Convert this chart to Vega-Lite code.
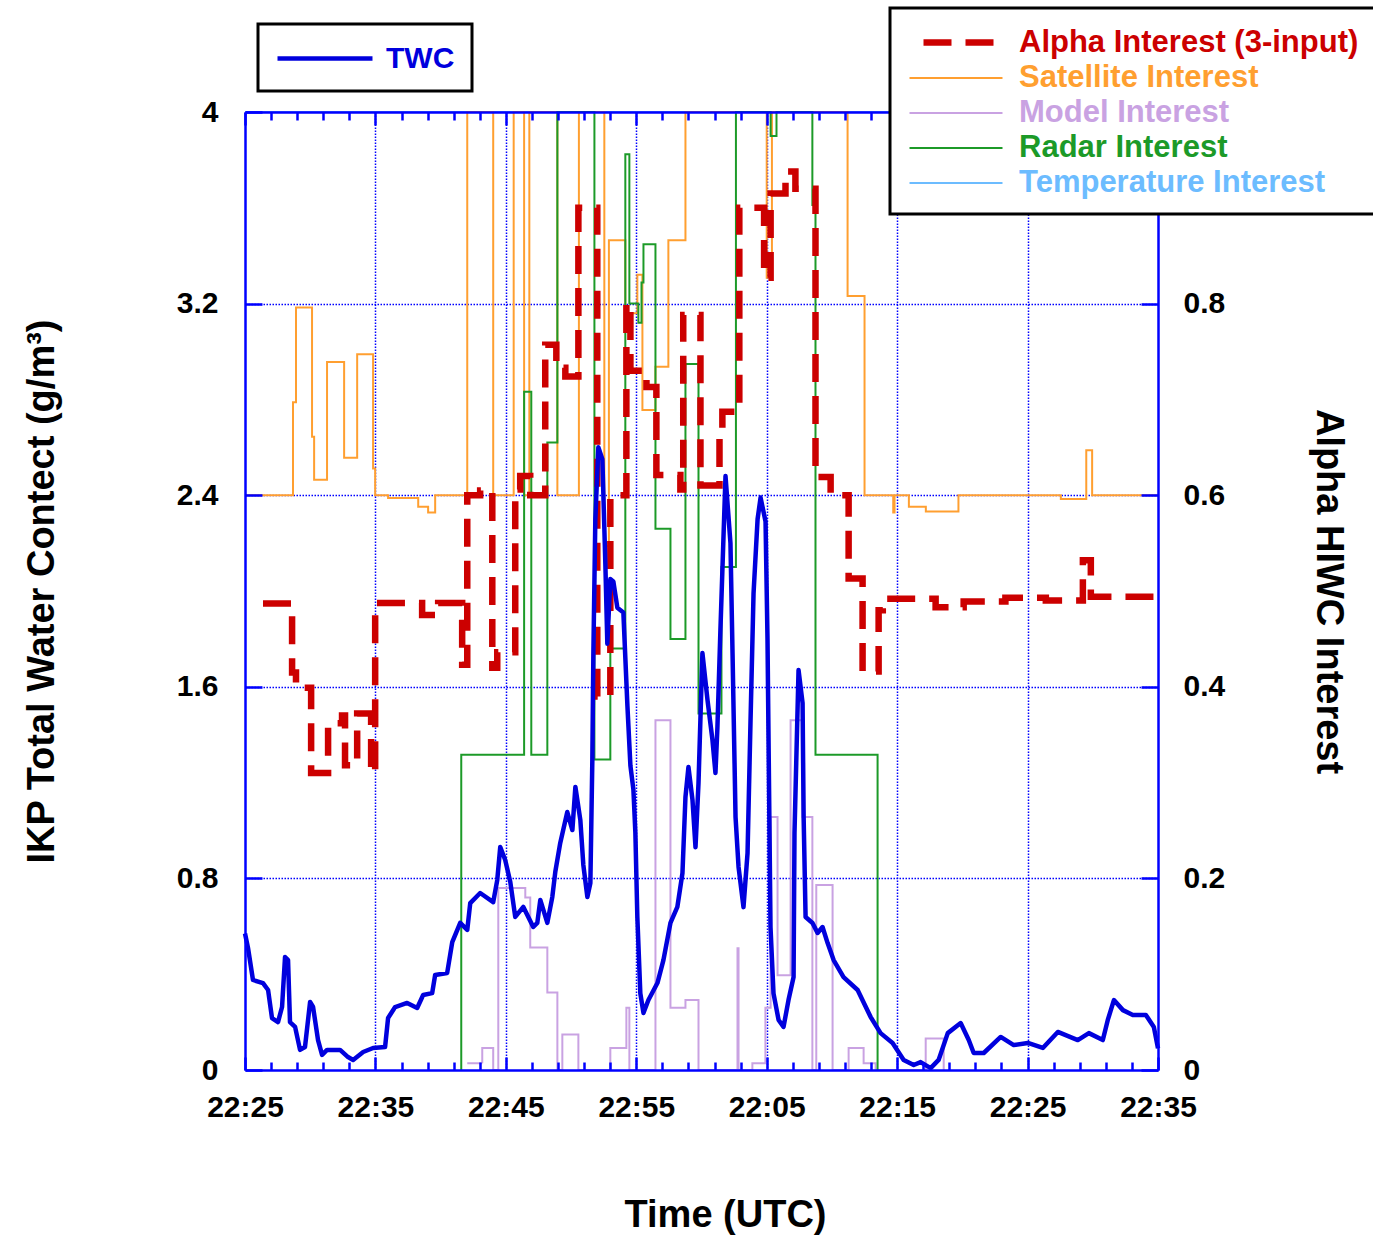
{
  "$schema": "https://vega.github.io/schema/vega-lite/v6.json",
  "width": 913,
  "height": 958,
  "autosize": {"type": "none"},
  "padding": {"left": 245, "top": 112, "right": 215, "bottom": 168},
  "background": "white",
  "config": {
    "view": {"stroke": null},
    "font": "Liberation Sans"
  },
  "datasets": {
    "twc": [
      {"t":0,"w":0.57},{"t":0.23,"w":0.51},{"t":0.61,"w":0.376},{"t":1.38,"w":0.363},{"t":1.77,"w":0.334},{"t":2.07,"w":0.217},{"t":2.53,"w":0.2},{"t":2.84,"w":0.263},{"t":3.07,"w":0.472},{"t":3.3,"w":0.459},{"t":3.45,"w":0.2},{"t":3.84,"w":0.18},{"t":4.22,"w":0.084},{"t":4.6,"w":0.096},{"t":4.99,"w":0.284},{"t":5.22,"w":0.263},{"t":5.6,"w":0.125},{"t":5.91,"w":0.063},{"t":6.29,"w":0.084},{"t":7.29,"w":0.084},{"t":7.9,"w":0.054},{"t":8.29,"w":0.042},{"t":9.06,"w":0.075},{"t":9.82,"w":0.092},{"t":10.74,"w":0.096},{"t":10.97,"w":0.217},{"t":11.51,"w":0.263},{"t":12.43,"w":0.28},{"t":13.2,"w":0.259},{"t":13.66,"w":0.313},{"t":14.35,"w":0.321},{"t":14.58,"w":0.397},{"t":15.5,"w":0.405},{"t":15.89,"w":0.534},{"t":16.5,"w":0.614},{"t":17.04,"w":0.585},{"t":17.27,"w":0.697},{"t":18.03,"w":0.739},{"t":19.03,"w":0.701},{"t":19.34,"w":0.793},{"t":19.57,"w":0.931},{"t":19.95,"w":0.877},{"t":20.34,"w":0.785},{"t":20.72,"w":0.639},{"t":21.34,"w":0.681},{"t":22.1,"w":0.597},{"t":22.41,"w":0.614},{"t":22.64,"w":0.71},{"t":23.18,"w":0.614},{"t":23.56,"w":0.722},{"t":23.79,"w":0.827},{"t":24.17,"w":0.948},{"t":24.71,"w":1.077},{"t":25.1,"w":1.002},{"t":25.33,"w":1.182},{"t":25.71,"w":1.044},{"t":25.94,"w":0.856},{"t":26.25,"w":0.722},{"t":26.48,"w":0.781},{"t":26.63,"w":1.294},{"t":26.71,"w":1.741},{"t":26.86,"w":2.3},{"t":27.09,"w":2.6},{"t":27.4,"w":2.55},{"t":27.63,"w":2.11},{"t":27.78,"w":1.78},{"t":28.01,"w":2.05},{"t":28.24,"w":2.04},{"t":28.55,"w":1.93},{"t":29.01,"w":1.91},{"t":29.32,"w":1.52},{"t":29.55,"w":1.27},{"t":29.78,"w":1.17},{"t":29.93,"w":0.99},{"t":30.08,"w":0.64},{"t":30.31,"w":0.32},{"t":30.55,"w":0.238},{"t":30.93,"w":0.292},{"t":31.62,"w":0.363},{"t":32.08,"w":0.459},{"t":32.62,"w":0.614},{"t":33.15,"w":0.681},{"t":33.54,"w":0.822},{"t":33.77,"w":1.14},{"t":34.0,"w":1.265},{"t":34.31,"w":1.127},{"t":34.54,"w":0.93},{"t":34.77,"w":1.198},{"t":35.07,"w":1.741},{"t":35.46,"w":1.545},{"t":35.84,"w":1.378},{"t":36.07,"w":1.24},{"t":36.22,"w":1.43},{"t":36.45,"w":1.837},{"t":36.84,"w":2.48},{"t":37.22,"w":2.2},{"t":37.38,"w":1.74},{"t":37.61,"w":1.056},{"t":37.84,"w":0.848},{"t":38.22,"w":0.68},{"t":38.53,"w":0.906},{"t":38.76,"w":1.461},{"t":38.99,"w":1.99},{"t":39.3,"w":2.3},{"t":39.53,"w":2.39},{"t":39.91,"w":2.29},{"t":40.06,"w":1.8},{"t":40.29,"w":0.597},{"t":40.52,"w":0.32},{"t":40.91,"w":0.209},{"t":41.29,"w":0.18},{"t":41.67,"w":0.292},{"t":42.06,"w":0.388},{"t":42.13,"w":0.99},{"t":42.44,"w":1.67},{"t":42.75,"w":1.532},{"t":42.83,"w":1.056},{"t":42.98,"w":0.639},{"t":43.51,"w":0.614},{"t":43.9,"w":0.572},{"t":44.28,"w":0.597},{"t":44.67,"w":0.53},{"t":45.13,"w":0.459},{"t":45.89,"w":0.388},{"t":46.97,"w":0.334},{"t":47.97,"w":0.221},{"t":48.73,"w":0.154},{"t":49.65,"w":0.113},{"t":50.5,"w":0.042},{"t":51.27,"w":0.021},{"t":51.8,"w":0.033},{"t":52.57,"w":0.008},{"t":53.18,"w":0.042},{"t":53.88,"w":0.154},{"t":54.87,"w":0.196},{"t":55.49,"w":0.125},{"t":55.87,"w":0.071},{"t":56.64,"w":0.071},{"t":57.94,"w":0.138},{"t":58.94,"w":0.104},{"t":60.02,"w":0.113},{"t":61.17,"w":0.092},{"t":62.32,"w":0.159},{"t":63.85,"w":0.125},{"t":64.7,"w":0.154},{"t":65.77,"w":0.125},{"t":66.15,"w":0.209},{"t":66.62,"w":0.292},{"t":67.31,"w":0.25},{"t":68.07,"w":0.23},{"t":69.07,"w":0.23},{"t":69.68,"w":0.18},{"t":70,"w":0.09}
    ],
    "interest": [
      {"s":"Temperature Interest","t":0,"v":1},{"s":"Temperature Interest","t":70,"v":1},
      {"s":"Model Interest","t":17.04,"v":0.007},{"s":"Model Interest","t":18.19,"v":0.023},{"s":"Model Interest","t":19.03,"v":0},{"s":"Model Interest","t":19.42,"v":0.19},{"s":"Model Interest","t":21.49,"v":0.18},{"s":"Model Interest","t":21.87,"v":0.128},{"s":"Model Interest","t":23.18,"v":0.081},{"s":"Model Interest","t":23.95,"v":0},{"s":"Model Interest","t":24.33,"v":0.037},{"s":"Model Interest","t":25.56,"v":0},{"s":"Model Interest","t":28.01,"v":0.023},{"s":"Model Interest","t":29.24,"v":0.065},{"s":"Model Interest","t":29.47,"v":0},{"s":"Model Interest","t":31.47,"v":0.365},{"s":"Model Interest","t":32.62,"v":0.065},{"s":"Model Interest","t":33.77,"v":0.073},{"s":"Model Interest","t":34.77,"v":0},{"s":"Model Interest","t":37.76,"v":0.127},{"s":"Model Interest","t":37.84,"v":0},{"s":"Model Interest","t":38.9,"v":0.007},{"s":"Model Interest","t":39.9,"v":0.065},{"s":"Model Interest","t":40.3,"v":0.264},{"s":"Model Interest","t":40.83,"v":0.099},{"s":"Model Interest","t":41.83,"v":0.365},{"s":"Model Interest","t":42.75,"v":0.264},{"s":"Model Interest","t":43.5,"v":0},{"s":"Model Interest","t":43.8,"v":0.193},{"s":"Model Interest","t":45.05,"v":0},{"s":"Model Interest","t":46.28,"v":0.023},{"s":"Model Interest","t":47.43,"v":0.007},{"s":"Model Interest","t":48.35,"v":0},{"s":"Model Interest","t":52.19,"v":0.033},{"s":"Model Interest","t":53.57,"v":0},
      {"s":"Satellite Interest","t":0,"v":0.6},{"s":"Satellite Interest","t":3.68,"v":0.697},{"s":"Satellite Interest","t":3.91,"v":0.796},{"s":"Satellite Interest","t":5.14,"v":0.661},{"s":"Satellite Interest","t":5.3,"v":0.616},{"s":"Satellite Interest","t":6.29,"v":0.739},{"s":"Satellite Interest","t":7.6,"v":0.639},{"s":"Satellite Interest","t":8.6,"v":0.747},{"s":"Satellite Interest","t":9.82,"v":0.628},{"s":"Satellite Interest","t":9.98,"v":0.6},{"s":"Satellite Interest","t":10.97,"v":0.597},{"s":"Satellite Interest","t":13.28,"v":0.588},{"s":"Satellite Interest","t":14.04,"v":0.582},{"s":"Satellite Interest","t":14.58,"v":0.6},{"s":"Satellite Interest","t":17.04,"v":1},{"s":"Satellite Interest","t":19.03,"v":0.6},{"s":"Satellite Interest","t":20.6,"v":1},{"s":"Satellite Interest","t":21.4,"v":0.6},{"s":"Satellite Interest","t":21.8,"v":1},{"s":"Satellite Interest","t":23.95,"v":0.6},{"s":"Satellite Interest","t":25.6,"v":1},{"s":"Satellite Interest","t":27.55,"v":0.547},{"s":"Satellite Interest","t":27.9,"v":0.866},{"s":"Satellite Interest","t":29.16,"v":0.79},{"s":"Satellite Interest","t":30.08,"v":0.83},{"s":"Satellite Interest","t":30.47,"v":0.689},{"s":"Satellite Interest","t":31.47,"v":0.734},{"s":"Satellite Interest","t":32.46,"v":0.866},{"s":"Satellite Interest","t":33.77,"v":1},{"s":"Satellite Interest","t":40.0,"v":0.827},{"s":"Satellite Interest","t":40.4,"v":1},{"s":"Satellite Interest","t":46.2,"v":0.808},{"s":"Satellite Interest","t":47.5,"v":0.6},{"s":"Satellite Interest","t":49.7,"v":0.582},{"s":"Satellite Interest","t":49.8,"v":0.6},{"s":"Satellite Interest","t":50.9,"v":0.588},{"s":"Satellite Interest","t":52.2,"v":0.583},{"s":"Satellite Interest","t":54.7,"v":0.6},{"s":"Satellite Interest","t":62.55,"v":0.596},{"s":"Satellite Interest","t":64.5,"v":0.647},{"s":"Satellite Interest","t":64.95,"v":0.6},{"s":"Satellite Interest","t":70,"v":0.6},
      {"s":"Radar Interest","t":16.57,"v":0},{"s":"Radar Interest","t":16.58,"v":0.329},{"s":"Radar Interest","t":21.4,"v":0.708},{"s":"Radar Interest","t":21.95,"v":0.329},{"s":"Radar Interest","t":23.18,"v":0.655},{"s":"Radar Interest","t":23.95,"v":1},{"s":"Radar Interest","t":26.79,"v":0.324},{"s":"Radar Interest","t":28.01,"v":0.44},{"s":"Radar Interest","t":29.16,"v":0.956},{"s":"Radar Interest","t":29.47,"v":0.8},{"s":"Radar Interest","t":30.16,"v":0.78},{"s":"Radar Interest","t":30.4,"v":0.822},{"s":"Radar Interest","t":30.55,"v":0.862},{"s":"Radar Interest","t":31.47,"v":0.565},{"s":"Radar Interest","t":32.62,"v":0.45},{"s":"Radar Interest","t":33.77,"v":0.737},{"s":"Radar Interest","t":34.77,"v":0.372},{"s":"Radar Interest","t":36.53,"v":0.525},{"s":"Radar Interest","t":37.64,"v":1},{"s":"Radar Interest","t":40.3,"v":0.975},{"s":"Radar Interest","t":40.75,"v":1},{"s":"Radar Interest","t":43.5,"v":0.903},{"s":"Radar Interest","t":43.74,"v":0.329},{"s":"Radar Interest","t":48.5,"v":0},
      {"s":"Alpha Interest (3-input)","t":1.38,"v":0.487},{"s":"Alpha Interest (3-input)","t":3.61,"v":0.415},{"s":"Alpha Interest (3-input)","t":3.91,"v":0.399},{"s":"Alpha Interest (3-input)","t":5.07,"v":0.31},{"s":"Alpha Interest (3-input)","t":6.37,"v":0.362},{"s":"Alpha Interest (3-input)","t":7.44,"v":0.37},{"s":"Alpha Interest (3-input)","t":7.67,"v":0.318},{"s":"Alpha Interest (3-input)","t":8.6,"v":0.372},{"s":"Alpha Interest (3-input)","t":9.67,"v":0.31},{"s":"Alpha Interest (3-input)","t":9.98,"v":0.4875},{"s":"Alpha Interest (3-input)","t":13.58,"v":0.475},{"s":"Alpha Interest (3-input)","t":14.81,"v":0.4875},{"s":"Alpha Interest (3-input)","t":16.65,"v":0.423},{"s":"Alpha Interest (3-input)","t":17.04,"v":0.6},{"s":"Alpha Interest (3-input)","t":18.03,"v":0.605},{"s":"Alpha Interest (3-input)","t":18.96,"v":0.42},{"s":"Alpha Interest (3-input)","t":19.34,"v":0.436},{"s":"Alpha Interest (3-input)","t":20.72,"v":0.606},{"s":"Alpha Interest (3-input)","t":21.1,"v":0.62},{"s":"Alpha Interest (3-input)","t":21.87,"v":0.6},{"s":"Alpha Interest (3-input)","t":23.02,"v":0.757},{"s":"Alpha Interest (3-input)","t":23.87,"v":0.733},{"s":"Alpha Interest (3-input)","t":24.56,"v":0.724},{"s":"Alpha Interest (3-input)","t":25.56,"v":0.9},{"s":"Alpha Interest (3-input)","t":27.01,"v":0.39},{"s":"Alpha Interest (3-input)","t":28.01,"v":0.6},{"s":"Alpha Interest (3-input)","t":29.24,"v":0.8},{"s":"Alpha Interest (3-input)","t":29.55,"v":0.73},{"s":"Alpha Interest (3-input)","t":30.78,"v":0.713},{"s":"Alpha Interest (3-input)","t":31.54,"v":0.621},{"s":"Alpha Interest (3-input)","t":33.38,"v":0.606},{"s":"Alpha Interest (3-input)","t":33.6,"v":0.788},{"s":"Alpha Interest (3-input)","t":34.92,"v":0.61},{"s":"Alpha Interest (3-input)","t":36.38,"v":0.668},{"s":"Alpha Interest (3-input)","t":36.6,"v":0.687},{"s":"Alpha Interest (3-input)","t":37.9,"v":0.9},{"s":"Alpha Interest (3-input)","t":39.8,"v":0.827},{"s":"Alpha Interest (3-input)","t":40.3,"v":0.915},{"s":"Alpha Interest (3-input)","t":41.44,"v":0.938},{"s":"Alpha Interest (3-input)","t":42.2,"v":0.92},{"s":"Alpha Interest (3-input)","t":43.74,"v":0.619},{"s":"Alpha Interest (3-input)","t":44.9,"v":0.6},{"s":"Alpha Interest (3-input)","t":46.28,"v":0.513},{"s":"Alpha Interest (3-input)","t":47.35,"v":0.416},{"s":"Alpha Interest (3-input)","t":48.58,"v":0.48},{"s":"Alpha Interest (3-input)","t":48.9,"v":0.492},{"s":"Alpha Interest (3-input)","t":52.95,"v":0.483},{"s":"Alpha Interest (3-input)","t":55.1,"v":0.489},{"s":"Alpha Interest (3-input)","t":58.3,"v":0.493},{"s":"Alpha Interest (3-input)","t":61.4,"v":0.49},{"s":"Alpha Interest (3-input)","t":64.24,"v":0.532},{"s":"Alpha Interest (3-input)","t":64.85,"v":0.494},{"s":"Alpha Interest (3-input)","t":70,"v":0.494}
    ]
  },
  "resolve": {
    "scale": {"y": "independent"},
    "axis": {"x": "independent", "y": "independent"}
  },
  "layer": [
    {
      "data": {"name": "interest"},
      "mark": {"type": "line", "interpolate": "step-after"},
      "encoding": {
        "x": {
          "field": "t", "type": "quantitative",
          "scale": {"domain": [0, 70], "nice": false, "zero": false},
          "axis": {
            "orient": "top", "values": [0,10,20,30,40,50,60,70], "labels": false, "grid": false, "title": null,
            "tickSize": -13, "tickWidth": 2.5, "tickColor": "#0000ff",
            "domainColor": "#0000ff", "domainWidth": 2.5, "zindex": 1
          }
        },
        "y": {
          "field": "v", "type": "quantitative",
          "scale": {"domain": [0, 1], "nice": false, "zero": false},
          "axis": {
            "orient": "right", "values": [0,0.2,0.4,0.6,0.8], "format": "~g", "grid": false,
            "tickSize": -17, "tickWidth": 2.5, "tickColor": "#0000ff",
            "domainColor": "#0000ff", "domainWidth": 2.5,
            "labelPadding": 42, "labelFontSize": 30, "labelFontWeight": "bold", "labelColor": "black", "labelFont": "Liberation Sans",
            "title": "Alpha HIWC Interest", "titleAngle": 90, "titleFontSize": 38, "titleFontWeight": "bold", "titleColor": "black", "titleFont": "Liberation Sans",
            "titleX": 169, "titleY": 479, "titleBaseline": "middle", "titleAlign": "center",
            "zindex": 1
          }
        },
        "color": {
          "field": "s", "type": "nominal",
          "scale": {
            "domain": ["Alpha Interest (3-input)", "Satellite Interest", "Model Interest", "Radar Interest", "Temperature Interest"],
            "range": ["#cc0000", "#ff9f30", "#c9a2e2", "#1c9a28", "#6cbcff"]
          },
          "legend": {
            "orient": "none", "legendX": 645, "legendY": -104, "title": null, "zindex": 3,
            "symbolType": "M-1,0L5.2,0", "symbolSize": 900,
            "labelFontSize": 31, "labelFont": "Liberation Sans", "labelFontWeight": "bold", "labelLimit": 700,
            "labelOffset": 76, "rowPadding": 4, "padding": 16,
            "fillColor": "white", "strokeColor": "black",
            "encode": {
              "labels": {"update": {"fill": {"scale": "color", "field": "value"}}},
              "legend": {"update": {"strokeWidth": {"value": 3}}},
              "symbols": {"update": {"strokeDashOffset": {"value": 28}}}
            }
          }
        },
        "strokeDash": {
          "field": "s", "type": "nominal",
          "scale": {
            "domain": ["Alpha Interest (3-input)", "Satellite Interest", "Model Interest", "Radar Interest", "Temperature Interest"],
            "range": [[28, 14], [1, 0], [1, 0], [1, 0], [1, 0]]
          }
        },
        "strokeWidth": {
          "field": "s", "type": "nominal",
          "scale": {
            "type": "ordinal",
            "domain": ["Alpha Interest (3-input)", "Satellite Interest", "Model Interest", "Radar Interest", "Temperature Interest"],
            "range": [6.5, 2, 2, 2, 2]
          }
        }
      }
    },
    {
      "data": {"name": "twc"},
      "mark": {"type": "line", "strokeWidth": 4.5, "strokeJoin": "round"},
      "encoding": {
        "x": {
          "field": "t", "type": "quantitative",
          "axis": {
            "orient": "bottom", "values": [0,10,20,30,40,50,60,70], "grid": false,
            "tickSize": -13, "tickWidth": 2.5, "tickColor": "#0000ff",
            "domainColor": "#0000ff", "domainWidth": 2.5,
            "labelExpr": "['22:25','22:35','22:45','22:55','22:05','22:15','22:25','22:35'][round(datum.value/10)]",
            "labelFlush": false, "labelOverlap": false, "labelPadding": 35, "labelFontSize": 30, "labelFontWeight": "bold", "labelColor": "black", "labelFont": "Liberation Sans",
            "title": "Time (UTC)", "titleFontSize": 38, "titleFontWeight": "bold", "titleColor": "black", "titleFont": "Liberation Sans",
            "titleX": 480, "titleY": 145, "titleBaseline": "middle", "titleAlign": "center",
            "zindex": 1
          }
        },
        "y": {
          "field": "w", "type": "quantitative",
          "scale": {"domain": [0, 4], "nice": false, "zero": false},
          "axis": {
            "orient": "left", "values": [0,0.8,1.6,2.4,3.2,4], "format": "~g", "grid": false,
            "tickSize": -17, "tickWidth": 2.5, "tickColor": "#0000ff",
            "domainColor": "#0000ff", "domainWidth": 2.5,
            "labelPadding": 44, "labelFontSize": 30, "labelFontWeight": "bold", "labelColor": "black", "labelFont": "Liberation Sans",
            "title": "IKP Total Water Contect (g/m³)", "titleAngle": 270, "titleFontSize": 38, "titleFontWeight": "bold", "titleColor": "black", "titleFont": "Liberation Sans",
            "titleX": -203, "titleY": 479, "titleBaseline": "middle", "titleAlign": "center",
            "zindex": 1
          }
        },
        "stroke": {
          "datum": "TWC", "type": "nominal",
          "scale": {"domain": ["TWC"], "range": ["#0000dd"]},
          "legend": {
            "orient": "none", "legendX": 13, "legendY": -88, "title": null, "zindex": 3,
            "symbolType": "M-1,0L5.333,0", "symbolSize": 900, "symbolStrokeWidth": 4.5,
            "labelFontSize": 30, "labelFont": "Liberation Sans", "labelFontWeight": "bold", "labelColor": "#0000dd",
            "labelOffset": 76, "padding": 17,
            "fillColor": "white", "strokeColor": "black",
            "encode": {"legend": {"update": {"strokeWidth": {"value": 3}}}}
          }
        }
      }
    },
    {
      "data": {"name": "twc"},
      "mark": {"type": "point", "opacity": 0},
      "encoding": {
        "x": {
          "field": "t", "type": "quantitative",
          "axis": {
            "orient": "bottom", "values": [10,20,30,40,50,60], "grid": true, "gridColor": "#0000ff", "gridDash": [1.5, 1.5], "gridWidth": 1.5,
            "ticks": false, "labels": false, "domain": false, "title": null, "zindex": 0
          }
        },
        "y": {
          "field": "w", "type": "quantitative",
          "scale": {"domain": [0, 4], "nice": false, "zero": false},
          "axis": {
            "orient": "left", "values": [0.8,1.6,2.4,3.2], "grid": true, "gridColor": "#0000ff", "gridDash": [1.5, 1.5], "gridWidth": 1.5,
            "ticks": false, "labels": false, "domain": false, "title": null, "zindex": 0
          }
        }
      }
    },
    {
      "data": {"name": "twc"},
      "mark": {"type": "point", "opacity": 0},
      "encoding": {
        "x": {
          "field": "t", "type": "quantitative",
          "axis": {
            "orient": "bottom", "values": [2,4,6,8,12,14,16,18,22,24,26,28,32,34,36,38,42,44,46,48,52,54,56,58,62,64,66,68],
            "grid": false, "labels": false, "domain": false, "title": null,
            "tickSize": -8, "tickWidth": 2.5, "tickColor": "#0000ff", "zindex": 1
          }
        }
      }
    },
    {
      "data": {"name": "twc"},
      "mark": {"type": "point", "opacity": 0},
      "encoding": {
        "x": {
          "field": "t", "type": "quantitative",
          "axis": {
            "orient": "top", "values": [2,4,6,8,12,14,16,18,22,24,26,28,32,34,36,38,42,44,46,48,52,54,56,58,62,64,66,68],
            "grid": false, "labels": false, "domain": false, "title": null,
            "tickSize": -8, "tickWidth": 2.5, "tickColor": "#0000ff", "zindex": 1
          }
        }
      }
    }
  ]
}
